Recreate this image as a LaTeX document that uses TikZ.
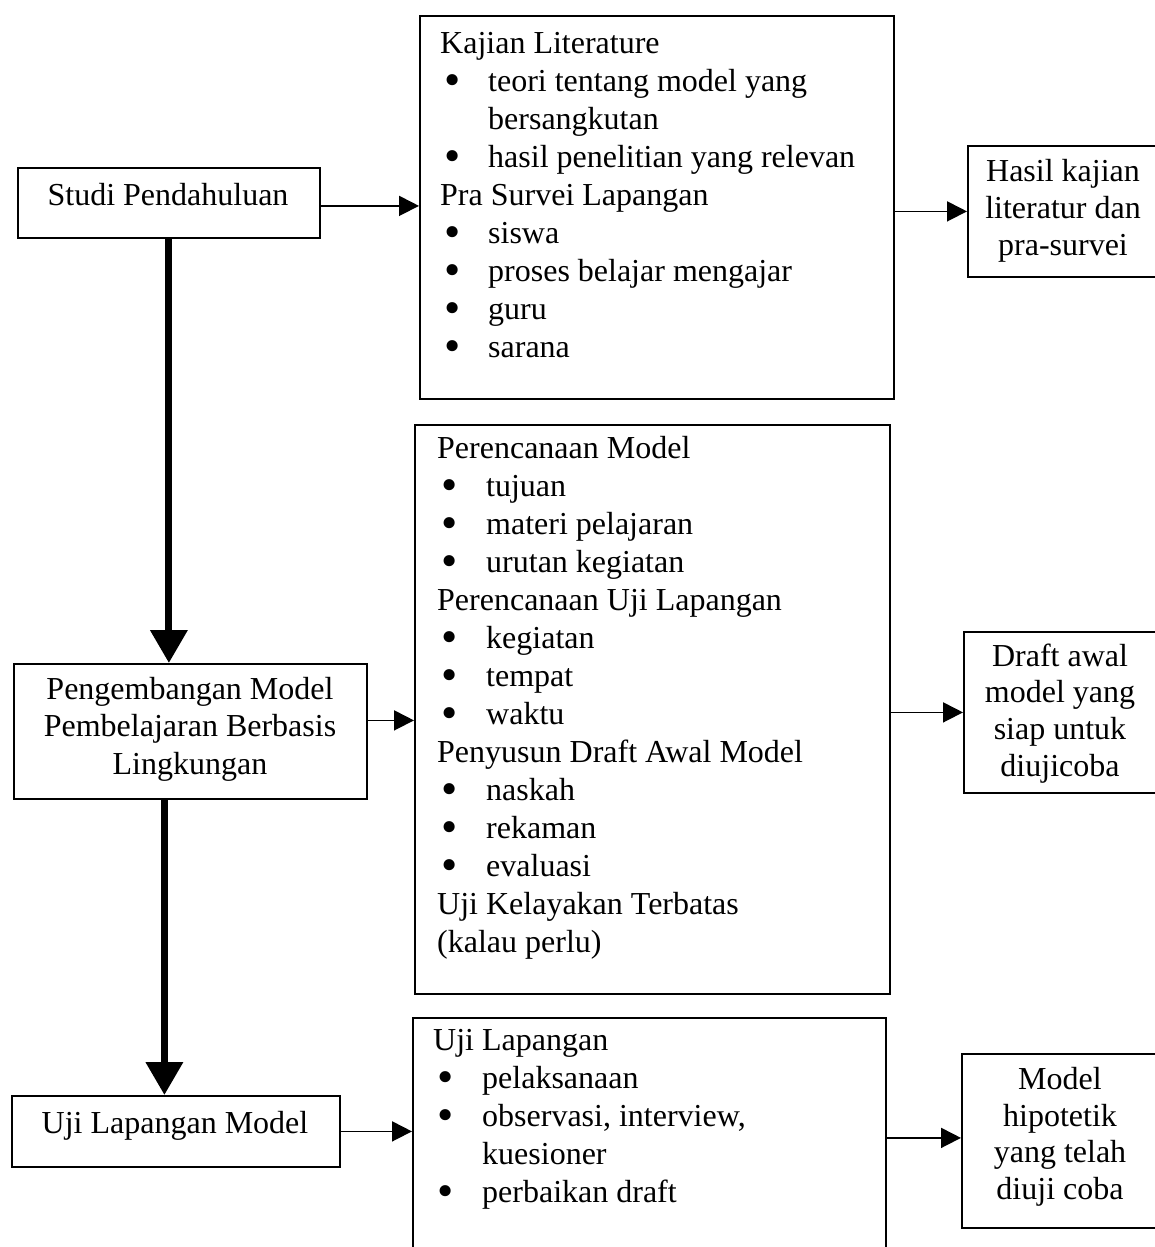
\documentclass[tikz,border=0pt]{standalone}
\usepackage{fontspec}
\setmainfont{Liberation Serif}
\usetikzlibrary{arrows.meta}
\newcommand{\blt}[1][48pt]{\makebox[#1][l]{\hspace{4pt}\smash{\raisebox{-4.5pt}{\scalebox{1.45}{•}}}}}
\begin{document}
\begin{tikzpicture}[x=1pt,y=-1pt,
  box/.style={draw, line width=1.8pt, inner sep=0pt, anchor=north west},
  lst/.style={anchor=north west, align=left, inner sep=0pt, font=\fontsize{32}{38}\selectfont},
  ctr/.style={align=center, inner sep=0pt, font=\fontsize{32}{37}\selectfont},
  thinarr/.style={line width=1.8pt, -{Triangle[length=20pt,width=20pt]}},
  thickarr/.style={line width=7pt, -{Triangle[length=33pt,width=36pt]}},
]
\useasboundingbox (0,0) rectangle (1155,1247);
\fill[white] (0,0) rectangle (1155,1247);
\clip (0,0) rectangle (1155,1247);

% boxes
\node[box, minimum width=302pt, minimum height=70pt]  (A) at (17,167) {};
\node[box, minimum width=474pt, minimum height=383pt] (B) at (419,15) {};
\node[box, minimum width=220pt, minimum height=131pt] (C) at (967,145) {};
\node[box, minimum width=353pt, minimum height=135pt] (D) at (13,663) {};
\node[box, minimum width=475pt, minimum height=569pt] (E) at (414,424) {};
\node[box, minimum width=220pt, minimum height=161pt] (F) at (963,631) {};
\node[box, minimum width=328pt, minimum height=71pt]  (G) at (11,1095) {};
\node[box, minimum width=473pt, minimum height=260pt] (H) at (412,1017) {};
\node[box, minimum width=220pt, minimum height=174pt] (I) at (961,1053) {};

% texts
\node[ctr] (At) at (168,198) {\strut Studi Pendahuluan};
\node[lst] (Bt) at (440,26.4) {\strut Kajian Literature\\
\blt{}teori tentang model yang\\
\hspace*{48pt}bersangkutan\\
\blt{}hasil penelitian yang relevan\\
Pra Survei Lapangan\\
\blt{}siswa\\
\blt{}proses belajar mengajar\\
\blt{}guru\\
\blt{}sarana};
\node[ctr] (Ct) at (1063,211) {\strut Hasil kajian\\literatur dan\\pra-survei\strut};
\node[ctr, font=\fontsize{32}{37.5}\selectfont] (Dt) at (190,729) {\strut Pengembangan Model\\Pembelajaran Berbasis\\Lingkungan\strut};
\node[lst] (Et) at (437,431.4) {\strut Perencanaan Model\\
\blt[49pt]tujuan\\
\blt[49pt]materi pelajaran\\
\blt[49pt]urutan kegiatan\\
Perencanaan Uji Lapangan\\
\blt[49pt]kegiatan\\
\blt[49pt]tempat\\
\blt[49pt]waktu\\
Penyusun Draft Awal Model\\
\blt[49pt]naskah\\
\blt[49pt]rekaman\\
\blt[49pt]evaluasi\\
Uji Kelayakan Terbatas\\
(kalau perlu)};
\node[ctr, font=\fontsize{32}{36.7}\selectfont] (Ft) at (1060,714) {\strut Draft awal\\model yang\\siap untuk\\diujicoba\strut};
\node[ctr] (Gt) at (175,1126) {\strut Uji Lapangan Model};
\node[lst] (Ht) at (433,1023.4) {\strut Uji Lapangan\\
\blt[49pt]pelaksanaan\\
\blt[49pt]observasi, interview,\\
\hspace*{49pt}kuesioner\\
\blt[49pt]perbaikan draft};
\node[ctr, font=\fontsize{32}{36.7}\selectfont] (It) at (1060,1137) {\strut Model\\hipotetik\\yang telah\\diuji coba\strut};

% connectors
\draw[thinarr] ([yshift=-3pt]A.east) -- ([yshift=-3pt]A.east -| B.west);
\draw[thinarr] (C.west -| B.east) -- (C.west);
\draw[thickarr] (A.south) -- (A.south |- D.north);
\draw[thinarr] ([yshift=11pt]D.east) -- ([yshift=11pt]D.east -| E.west);
\draw[thinarr] (F.west -| E.east) -- (F.west);
\draw[thickarr] ([xshift=-26pt]D.south) -- ([xshift=-26pt]D.south |- G.north);
\draw[thinarr] (G.east) -- (G.east -| H.west);
\draw[thinarr] ([yshift=3pt]I.west -| H.east) -- ([yshift=3pt]I.west);
\end{tikzpicture}
\end{document}
